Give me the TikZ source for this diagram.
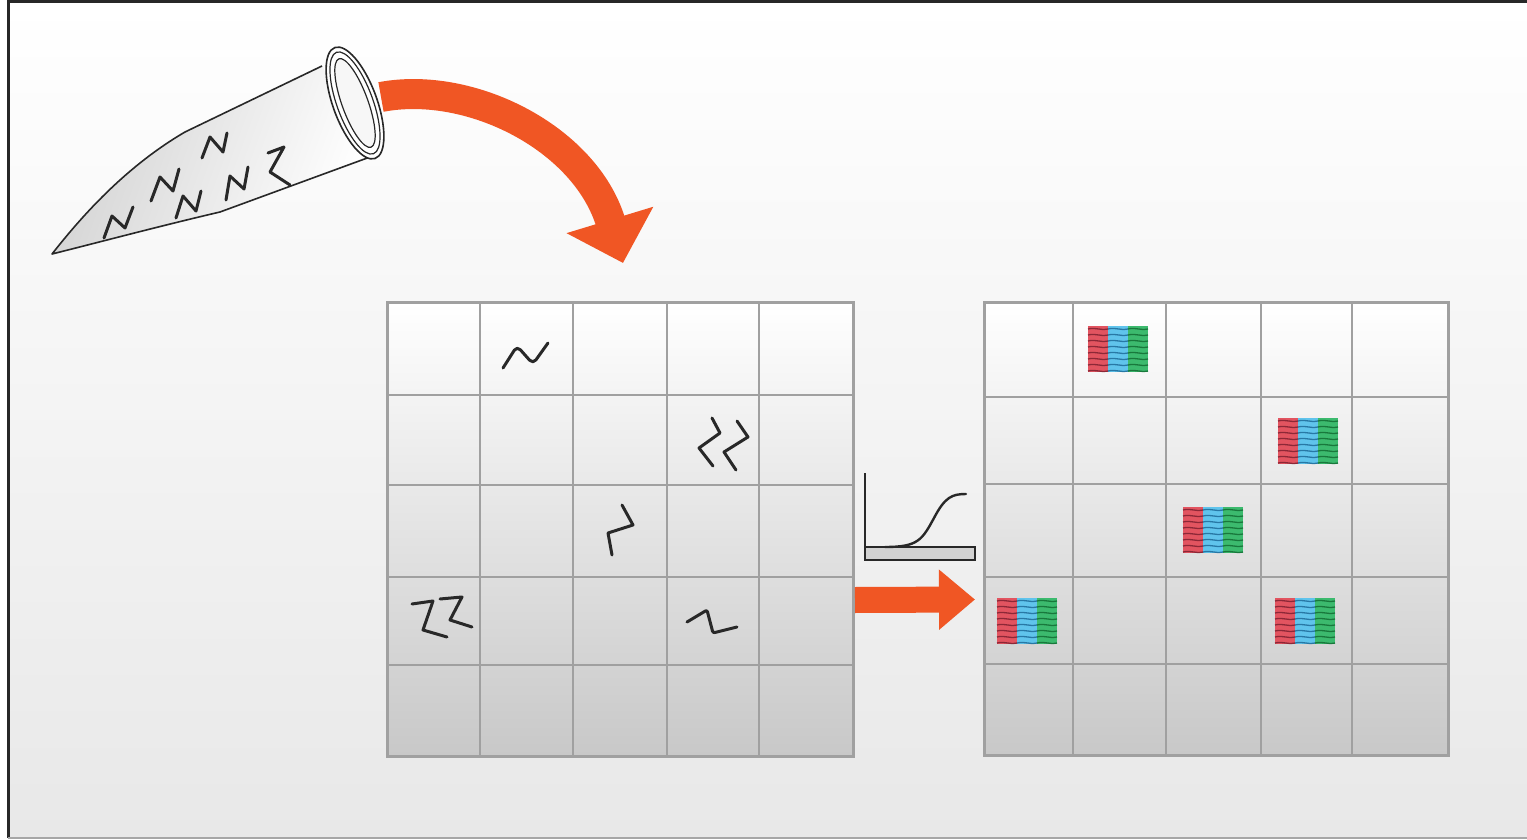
\documentclass[tikz,border=0pt]{standalone}
\usetikzlibrary{arrows.meta,calc}
\definecolor{pourorange}{RGB}{240,86,36}
\definecolor{bgbot}{RGB}{232,232,232}
\definecolor{gridline}{RGB}{160,160,160}
\definecolor{cellbot}{RGB}{200,200,200}
\definecolor{ink}{RGB}{40,40,40}
\definecolor{dred}{RGB}{226,84,96}
\definecolor{dredk}{RGB}{140,40,55}
\definecolor{dblue}{RGB}{96,196,236}
\definecolor{dbluek}{RGB}{40,120,165}
\definecolor{dgreen}{RGB}{60,186,110}
\definecolor{dgreenk}{RGB}{25,120,60}
\tikzset{
  plate/.style={top color=white, bottom color=cellbot, inner sep=0pt, outer sep=0pt},
  gridrule/.style={draw=gridline, line width=2.6pt},
  plateedge/.style={draw=gridline, line width=3pt},
  squig/.style={draw=ink, line width=3pt, line join=round, line cap=round},
  tubeline/.style={draw=ink, line width=1.6pt, line join=round},
  duplex/.pic={
    \fill[dred]   (-30,-23) rectangle (-10,23);
    \fill[dblue]  (-10,-23) rectangle (10,23);
    \fill[dgreen] (10,-23) rectangle (30,23);
    \foreach \y in {-20,-14,...,22} {
      \draw[dredk, line width=1.3pt]   (-30,\y) .. controls (-22,\y-2) and (-16,\y+2) .. (-10,\y);
      \draw[dbluek, line width=1.3pt]  (-10,\y) .. controls (-2,\y-2) and (4,\y+2) .. (10,\y);
      \draw[dgreenk, line width=1.3pt] (10,\y) .. controls (18,\y-2) and (24,\y+2) .. (30,\y);
    }
  }
}
\begin{document}
\begin{tikzpicture}[x=1pt,y=-1pt]
\useasboundingbox (0,0) rectangle (1527,840);
% background and frame
\fill[white] (0,0) rectangle (1527,840);
\shade[top color=white, bottom color=bgbot] (8,2) rectangle (1527,838);
\draw[ink, line width=3pt] (1527,2) -- (8,2) -- (8,838);
\draw[gray!70, line width=2.5pt] (8,838) -- (1527,838);

% ---- sample tube ----
\path[left color=gray!35, right color=white, shading angle=70]
  (322,66) -- (185,132) .. controls (120,170) and (75,225) .. (52,254)
  .. controls (100,242) and (160,226) .. (220,212) -- (370,157) -- cycle;
\draw[tubeline] (322,66) -- (185,132) .. controls (120,170) and (75,225) .. (52,254)
  .. controls (100,242) and (160,226) .. (220,212) -- (370,157);
% rim
\begin{scope}[rotate around={20:(355,103)}]
  \draw[tubeline, fill=white] (355,103) ellipse [x radius=22pt, y radius=59pt];
  \draw[tubeline, line width=1.2pt] (355,103) ellipse [x radius=18pt, y radius=54pt];
  \draw[tubeline, line width=1.2pt, fill=gray!6] (355,103) ellipse [x radius=13pt, y radius=47pt];
\end{scope}
\coordinate (pour) at (381,97);
% molecules inside the tube
\draw[squig] (104,238) -- (112,216) -- (125,228) -- (133,207);
\draw[squig] (151,201) -- (160,177) -- (173,191) -- (179,169);
\draw[squig] (202,158) -- (210,137) -- (223,152) -- (227,133);
\draw[squig] (176,218) -- (183,196) -- (196,211) -- (201,191);
\draw[squig] (226,200) -- (230,176) -- (244,189) -- (248,167);
\draw[squig] (268,153) -- (284,147) -- (270,172) -- (290,185);

% ---- curved transfer arrow ----
\coordinate (drop) at (623,263);
\draw[pourorange, line width=30pt, -{Triangle[length=45pt,width=88pt]}]
  (pour) .. controls (470,80) and (585,138) .. (drop);

% ---- plates ----
\node[plate, minimum width=466pt, minimum height=454pt] (plateA) at (620,529) {};
\node[plate, minimum width=464pt, minimum height=453pt] (plateB) at (1216,528.5) {};
\foreach \x in {480,573,667,759} \draw[gridrule] (\x,302) -- (\x,756);
\foreach \y in {395,485,577,665} \draw[gridrule] (387,\y) -- (853,\y);
\foreach \x in {1073,1166,1261,1352} \draw[gridrule] (\x,302) -- (\x,755);
\foreach \y in {397,484,577,664} \draw[gridrule] (984,\y) -- (1448,\y);
\draw[plateedge] (plateA.north west) rectangle (plateA.south east);
\draw[plateedge] (plateB.north west) rectangle (plateB.south east);

% single molecules in the first plate
\draw[squig, rounded corners=5pt] (503,368) -- (517,346) -- (533,364) -- (548,343);
\draw[squig] (712,418) -- (720,433) -- (699,448) -- (713,466);
\draw[squig] (737,421) -- (748,437) -- (724,452) -- (736,470);
\draw[squig] (622,505) -- (633,525) -- (608,533) -- (612,555);
\draw[squig] (412,604) -- (433,601) -- (423,630) -- (447,637);
\draw[squig] (440,599) -- (462,597) -- (450,620) -- (472,627);
\draw[squig, rounded corners=2pt] (687,622) -- (707,610) -- (713,633) -- (737,627);

% amplified products in the second plate
\pic at (1118,349) {duplex};
\pic at (1308,441) {duplex};
\pic at (1213,530) {duplex};
\pic at (1027,621) {duplex};
\pic at (1305,621) {duplex};

% ---- amplification curve icon ----
\fill[gray!35] (865,547) rectangle (975,560);
\draw[ink, line width=2.6pt] (865,473) -- (865,560) -- (975,560) -- (975,547) -- (865,547);
\draw[ink, line width=2.4pt, line cap=round] (885,547) .. controls (918,547) and (922,540) .. (934,518)
  .. controls (945,497) and (952,494) .. (966,494);

% ---- transfer arrow between plates ----
\coordinate (arrowL) at ($(plateA.east)+(2,71)$);
\coordinate (arrowR) at ($(plateB.west)+(-9,71)$);
\draw[pourorange, line width=26pt, -{Triangle[length=36pt,width=58pt]}] (arrowL) -- (arrowR);
\end{tikzpicture}
\end{document}
